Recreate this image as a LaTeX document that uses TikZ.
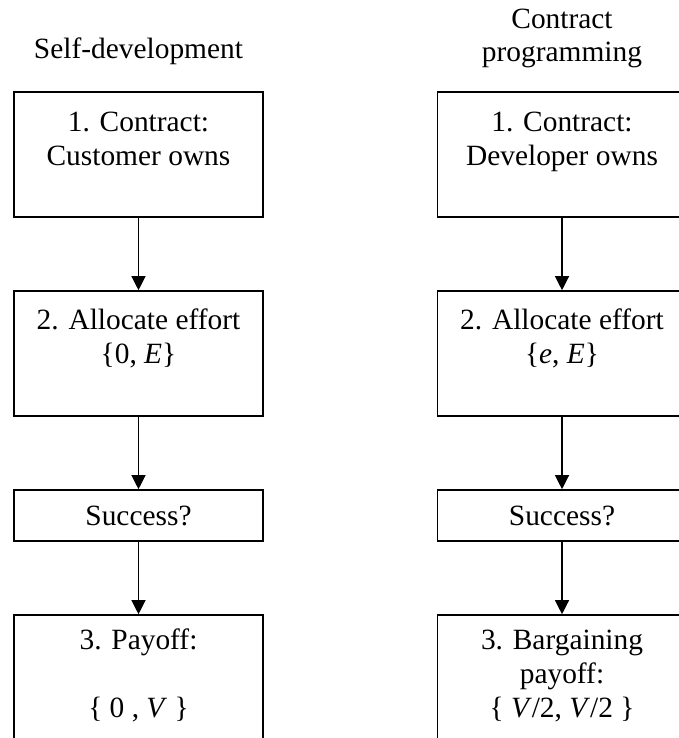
\documentclass[tikz,border=0pt]{standalone}
\usepackage{fontspec}
\setmainfont{Liberation Serif}
\usetikzlibrary{arrows.meta}

\begin{document}
\begin{tikzpicture}[x=0.5pt,y=-0.5pt,
  stagebox/.style={draw, line width=0.8pt, minimum width=124.5pt, inner sep=0pt},
  stagetext/.style={font=\fontsize{14.7}{16.9}\selectfont, align=center, anchor=base, inner sep=0pt},
  flow/.style={-{Triangle[length=7pt,width=7pt]}, line width=0.6pt}]

  %–– Picture frame ––
  \useasboundingbox[fill=white] (0,0) rectangle (679,738);

  %–– Column centres ––
  \def\colSelf{138.5}
  \def\colDev{562}

  %–– Column titles (anchored at the last line) ––
  \node[stagetext] (titleSelf) at (\colSelf,59) {Self-development};
  \node[stagetext] (titleDev) at (\colDev,62) {Contract\\programming};

  %–– Boxes: self-development ––
  \node[stagebox, minimum height=62.5pt] (selfContract) at (\colSelf,154.5) {};
  \node[stagebox, minimum height=62.5pt] (selfEffort) at (\colSelf,353.5) {};
  \node[stagebox, minimum height=25.5pt] (selfSuccess) at (\colSelf,515.5) {};
  \node[stagebox, minimum height=85pt] (selfPayoff) at (\colSelf,700) {};

  %–– Boxes: contract programming ––
  \node[stagebox, minimum height=62.5pt] (devContract) at (\colDev,154.5) {};
  \node[stagebox, minimum height=62.5pt] (devEffort) at (\colDev,353.5) {};
  \node[stagebox, minimum height=25.5pt] (devSuccess) at (\colDev,515.5) {};
  \node[stagebox, minimum height=85pt] (devPayoff) at (\colDev,700) {};

  %–– Box texts ––
  \node[stagetext] (selfContractTxt) at (\colSelf,165) {1. Contract:\\Customer owns};
  \node[stagetext] (selfEffortTxt) at (\colSelf,363) {2. Allocate effort\\\{0, \textit{E}\}};
  \node[stagetext] (selfSuccessTxt) at (\colSelf,525) {Success?};
  \node[stagetext] (selfPayoffTxt) at (\colSelf,717) {3. Payoff:\\[16.9pt]\{ 0 , \textit{V} \}};

  \node[stagetext] (devContractTxt) at (\colDev,165) {1. Contract:\\Developer owns};
  \node[stagetext] (devEffortTxt) at (\colDev,363) {2. Allocate effort\\\{\textit{e}, \textit{E}\}};
  \node[stagetext] (devSuccessTxt) at (\colDev,525) {Success?};
  \node[stagetext] (devPayoffTxt) at (\colDev,717) {3. Bargaining\\payoff:\\\{ \textit{V}/2, \textit{V}/2 \}};

  %–– Arrows ––
  \foreach \col in {self,dev}{
    \draw[flow] (\col Contract.south) -- (\col Effort.north);
    \draw[flow] (\col Effort.south) -- (\col Success.north);
    \draw[flow] (\col Success.south) -- (\col Payoff.north);
  }

\end{tikzpicture}
\end{document}
